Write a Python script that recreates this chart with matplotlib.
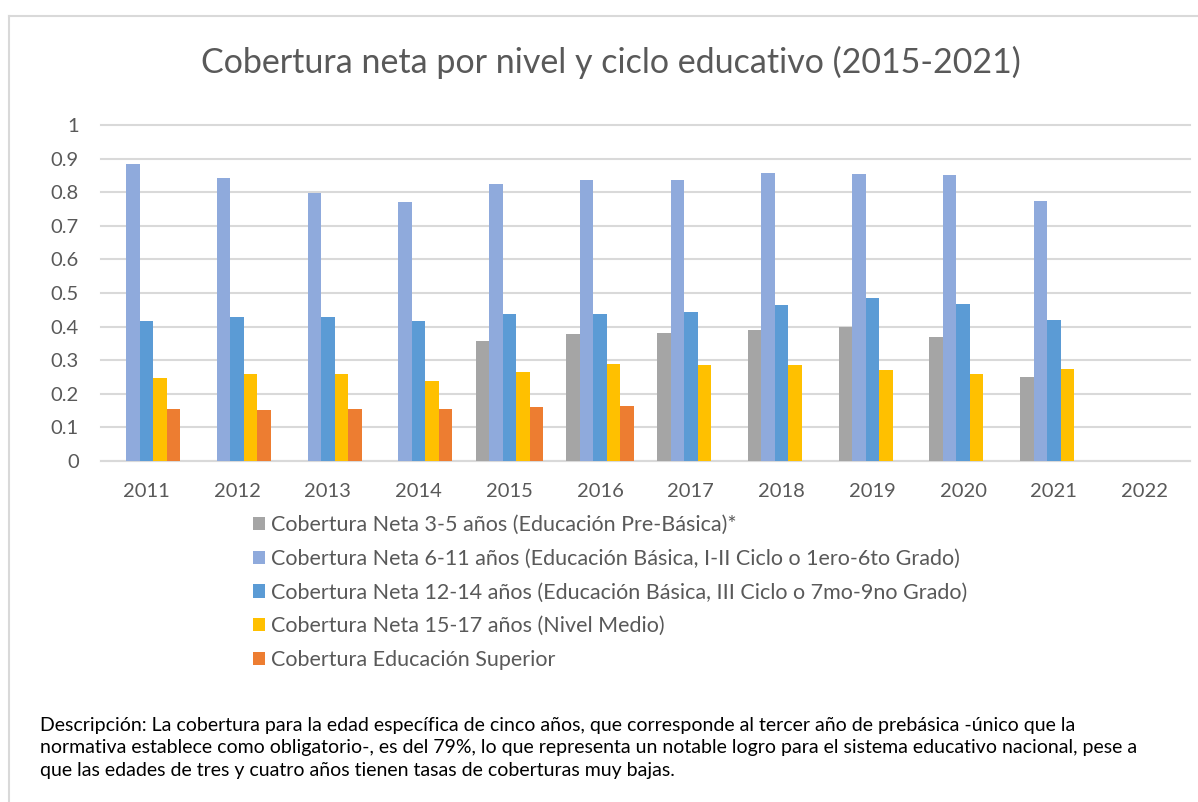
import numpy as np
import matplotlib.pyplot as plt
from matplotlib.lines import Line2D

plt.rcParams['font.family'] = ['Lato', 'DejaVu Sans']

years = ['2011', '2012', '2013', '2014', '2015', '2016', '2017', '2018', '2019', '2020', '2021', '2022']
nan = np.nan
pre_basica = [nan, nan, nan, nan, 0.357, 0.378, 0.381, 0.389, 0.400, 0.369, 0.251, nan]
basica_1_6 = [0.883, 0.841, 0.799, 0.771, 0.825, 0.835, 0.836, 0.857, 0.853, 0.851, 0.774, nan]
basica_7_9 = [0.418, 0.428, 0.428, 0.418, 0.437, 0.438, 0.443, 0.465, 0.484, 0.466, 0.421, nan]
nivel_medio = [0.248, 0.258, 0.258, 0.239, 0.265, 0.290, 0.287, 0.287, 0.272, 0.260, 0.275, nan]
superior = [0.155, 0.153, 0.156, 0.154, 0.160, 0.163, nan, nan, nan, nan, nan, nan]

series = [
    ('Cobertura Neta 3-5 años (Educación Pre-Básica)*', pre_basica, '#A5A5A5'),
    ('Cobertura Neta 6-11 años (Educación Básica, I-II Ciclo o 1ero-6to Grado)', basica_1_6, '#8FAADC'),
    ('Cobertura Neta 12-14 años (Educación Básica, III Ciclo o 7mo-9no Grado)', basica_7_9, '#5B9BD5'),
    ('Cobertura Neta 15-17 años (Nivel Medio)', nivel_medio, '#FFC000'),
    ('Cobertura Educación Superior', superior, '#ED7D31'),
]

title = 'Cobertura neta por nivel y ciclo educativo (2015-2021)'
descripcion = ('Descripción: La cobertura para la edad específica de cinco años, que corresponde al tercer año de prebásica -único que la\n'
               'normativa establece como obligatorio-, es del 79%, lo que representa un notable logro para el sistema educativo nacional, pese a\n'
               'que las edades de tres y cuatro años tienen tasas de coberturas muy bajas.')

W, H = 1198, 802
fig = plt.figure(figsize=(W / 100, H / 100), dpi=100)
ax = fig.add_axes([101 / W, 1 - 461 / H, (1190 - 101) / W, (461 - 125) / H])

grey_txt = '#595959'
x = np.arange(len(years))
bw = 0.149
handles = []
for i, (label, vals, col) in enumerate(series):
    b = ax.bar(x + (i - 2) * bw, vals, width=bw, color=col, label=label, zorder=3)
    handles.append(b)

ax.set_xlim(-0.5, len(years) - 0.5)
ax.set_ylim(0, 1)
ax.set_yticks(np.arange(0, 1.01, 0.1))
ax.set_yticklabels(['0', '0.1', '0.2', '0.3', '0.4', '0.5', '0.6', '0.7', '0.8', '0.9', '1'])
ax.set_xticks(x)
ax.set_xticklabels(years)
ax.tick_params(axis='both', length=0, labelsize=14.5, labelcolor=grey_txt)
ax.tick_params(axis='y', pad=16)
ax.tick_params(axis='x', pad=16)
ax.yaxis.grid(True, color='#D9D9D9', linewidth=1.5, zorder=0)
for s in ['top', 'right', 'left']:
    ax.spines[s].set_visible(False)
ax.spines['bottom'].set_color('#D9D9D9')
ax.spines['bottom'].set_linewidth(1.5)
for gl in ax.get_ygridlines():
    gl.set_clip_on(False)

fig.text(611 / W, 1 - 62 / H, title, ha='center', va='center', fontsize=24.5, color=grey_txt)

fig.legend(handles=handles, loc='upper left', bbox_to_anchor=(253 / W, 1 - 515 / H),
           frameon=False, fontsize=15.5, handlelength=0.56, handleheight=0.56,
           handletextpad=0.28, labelspacing=0.64, borderpad=0, borderaxespad=0,
           labelcolor=grey_txt)

fig.text(40 / W, 1 - 748 / H, descripcion, ha='left', va='center', fontsize=14,
         color='black', linespacing=1.42)

# chart frame (left and top edges visible)
fig.add_artist(Line2D([9 / W, 9 / W], [0, 1 - 16 / H], color='#D9D9D9', linewidth=1.5))
fig.add_artist(Line2D([9 / W, 1], [1 - 16 / H, 1 - 16 / H], color='#D9D9D9', linewidth=1.5))

fig.savefig('out.png', dpi=100, facecolor='white')
